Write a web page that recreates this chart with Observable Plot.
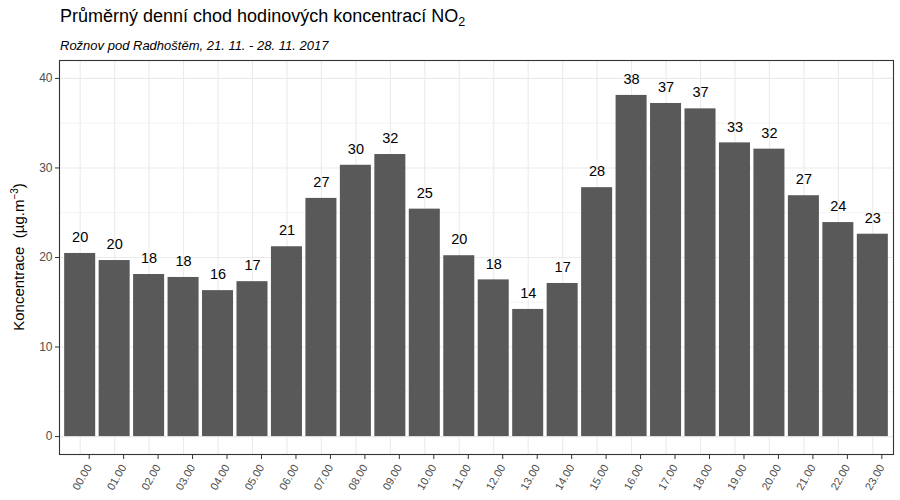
<!DOCTYPE html>
<html><head><meta charset="utf-8">
<script src="https://cdn.jsdelivr.net/npm/d3@7"></script>
<script src="https://cdn.jsdelivr.net/npm/@observablehq/plot@0.6"></script>
<style>
body{margin:0;background:#fff;font-family:"Liberation Sans",Arial,sans-serif;}
#wrap{position:relative;width:900px;height:500px;}
#title{position:absolute;left:60px;top:6px;font-size:18px;color:#000;white-space:nowrap;}
#title sub{font-size:12.5px;vertical-align:-4px;line-height:0;}
#subtitle{position:absolute;left:60px;top:38px;font-size:13px;font-style:italic;color:#000;white-space:nowrap;}
#ytitle{position:absolute;left:18px;top:257px;transform:translate(-50%,-50%) rotate(-90deg);font-size:15px;white-space:nowrap;color:#000;}
#ytitle sup{font-size:10px;vertical-align:6px;line-height:0;}
svg{position:absolute;left:0;top:0;}
</style></head>
<body><div id="wrap">
<div id="chart"></div>
<div id="title">Průměrný denní chod hodinových koncentrací NO<sub>2</sub></div>
<div id="subtitle">Rožnov pod Radhoštěm, 21. 11. - 28. 11. 2017</div>
<div id="ytitle">Koncentrace &nbsp;(µg.m<sup>−3</sup>)</div>
</div>
<script>
const hours = ["00.00","01.00","02.00","03.00","04.00","05.00","06.00","07.00","08.00","09.00","10.00","11.00","12.00","13.00","14.00","15.00","16.00","17.00","18.00","19.00","20.00","21.00","22.00","23.00"];
const values = [20.45,19.66,18.1,17.77,16.3,17.3,21.2,26.6,30.3,31.5,25.4,20.2,17.5,14.2,17.1,27.8,38.1,37.2,36.6,32.8,32.1,26.9,23.9,22.6];
const labels = ["20","20","18","18","16","17","21","27","30","32","25","20","18","14","17","28","38","37","37","33","32","27","24","23"];
const yTicks = [0,10,20,30,40];
const yMinor = [5,15,25,35];

const data = hours.map((h,i)=>({hour:h, value:values[i], label:labels[i]}));

const chart = Plot.plot({
  width: 900, height: 500,
  marginLeft: 59, marginRight: 7, marginTop: 60, marginBottom: 46,
  style: {fontFamily: '"Liberation Sans", Arial, sans-serif', background: "transparent"},
  x: {type: "band", domain: hours, paddingInner: 0.1, paddingOuter: 0.15, round: false, label: null},
  y: {domain: [-2, 42], label: null},
  marks: [
    Plot.gridY(yMinor, {stroke: "#ebebeb", strokeOpacity: 1, strokeWidth: 0.6}),
    Plot.gridY(yTicks, {stroke: "#ebebeb", strokeOpacity: 1, strokeWidth: 1.1}),
    Plot.gridX(hours, {stroke: "#ebebeb", strokeOpacity: 1, strokeWidth: 1.1}),
    Plot.barY(data, {x: "hour", y: "value", fill: "#595959"}),
    Plot.text(data, {x: "hour", y: "value", text: "label", dy: -16, fontSize: 14.5, fill: "#000"}),
    Plot.frame({stroke: "#333333", strokeWidth: 1.1}),
    Plot.axisY(yTicks, {tickSize: 4, tickPadding: 3, fontSize: 12, color: "#4d4d4d", stroke: "#333", label: null}),
    Plot.axisX(hours, {tickSize: 4, tickRotate: -60, tickPadding: 6, dx: 9, dy: 1, fontSize: 11, color: "#4d4d4d", stroke: "#333", label: null})
  ]
});
document.getElementById("chart").appendChild(chart);
</script>
</body></html>
